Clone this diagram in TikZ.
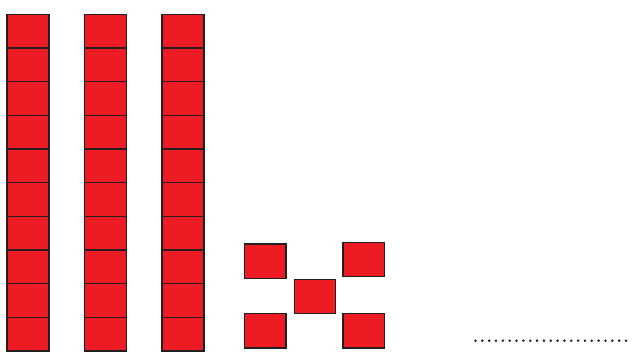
\documentclass[tikz,border=0pt]{standalone}
\definecolor{blockred}{HTML}{ED1C24}
\definecolor{blockedge}{HTML}{231F20}
\tikzset{
  unitsq/.style={draw=blockedge, fill=blockred, line width=1.3pt, inner sep=0pt,
    minimum width=42pt, minimum height=33.7pt},
  loosesq/.style={draw=blockedge, fill=blockred, line width=1.3pt, inner sep=0pt,
    minimum width=41.5pt, minimum height=34.5pt},
  dotline/.style={draw=blockedge, line width=2.8pt, line cap=round, dash pattern=on 0pt off 6.84pt}
}
\begin{document}
\begin{tikzpicture}[x=1pt,y=-1pt]
\useasboundingbox (0,0) rectangle (640,362);
\foreach \c/\xx in {1/28, 2/105.5, 3/183}{
  \foreach \r in {0,...,9}{
    \node[unitsq] (c\c r\r) at (\xx, {14.3+33.67*(\r+0.5)}) {};
  }
}
\node[loosesq] (tl) at (265.2,261.3) {};
\node[loosesq] (tr) at (363.7,259.5) {};
\node[loosesq] (mid) at (314.9,296.5) {};
\node[loosesq] (bl) at (265.2,330.8) {};
\node[loosesq] (br) at (363.7,330.8) {};
\coordinate (dotstart) at (475.5,340.7);
\coordinate (dotend) at (626.5,340.7);
\draw[dotline] (dotstart) -- (dotend);
\end{tikzpicture}
\end{document}
